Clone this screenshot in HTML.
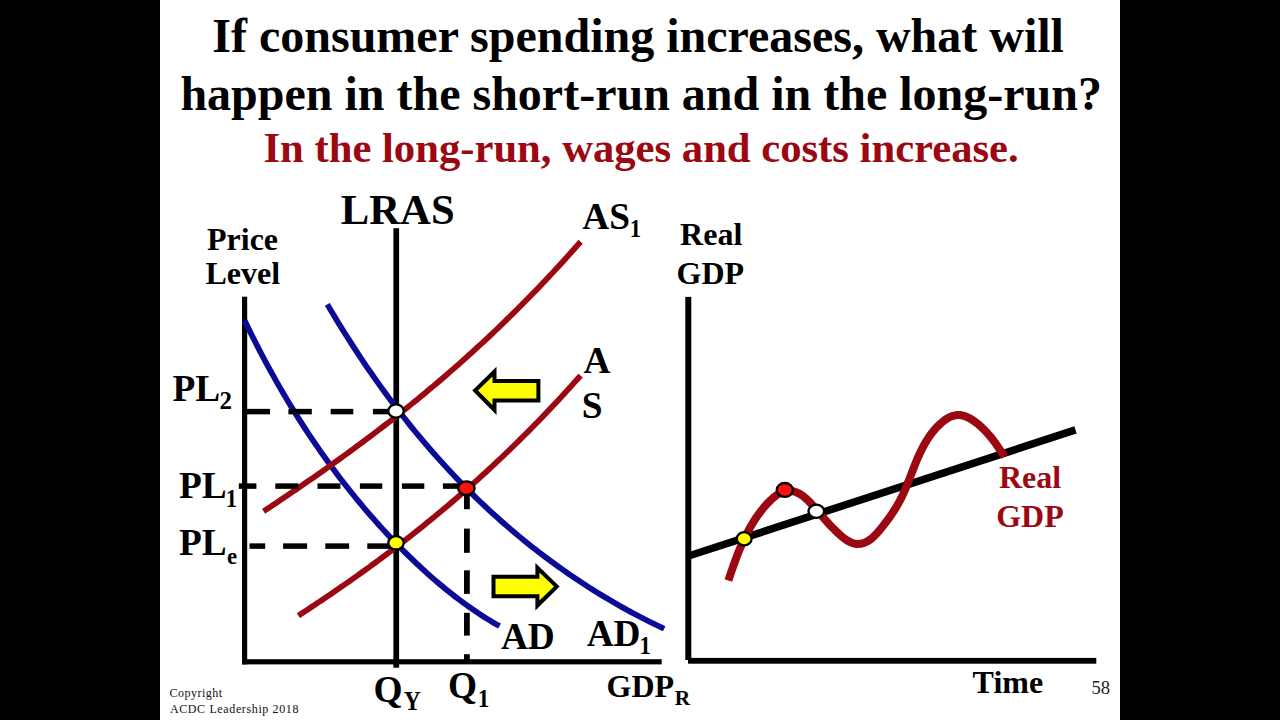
<!DOCTYPE html>
<html><head><meta charset="utf-8"><title>Slide 58</title><style>
html,body{margin:0;padding:0;background:#000;width:1280px;height:720px;overflow:hidden}
svg{display:block}
text{font-family:"Liberation Serif","Times New Roman",serif}
</style></head><body>
<svg width="1280" height="720" viewBox="0 0 1280 720">
<rect x="160.00" y="0.00" width="960.00" height="720.00" fill="#fff"/>
<text x="212.32" y="51.70" font-size="48" font-weight="bold" fill="#000">If consumer spending increases, what will</text>
<text x="180.40" y="109.70" font-size="48" font-weight="bold" fill="#000">happen in the short-run and in the long-run?</text>
<text x="263.51" y="162.10" font-size="42.67" font-weight="bold" fill="#9c0812">In the long-run, wages and costs increase.</text>
<text x="340.86" y="223.80" font-size="42.67" font-weight="bold" fill="#000">LRAS</text>
<text x="207.02" y="249.70" font-size="32" font-weight="bold" fill="#000">Price</text>
<text x="205.42" y="283.50" font-size="32" font-weight="bold" fill="#000">Level</text>
<text x="172.54" y="400.80" font-size="37.33" font-weight="bold" fill="#000">PL</text>
<text x="219.50" y="409.20" font-size="25" font-weight="bold" fill="#000">2</text>
<text x="178.94" y="497.80" font-size="37.33" font-weight="bold" fill="#000">PL</text>
<text x="225.68" y="506.60" font-size="25" font-weight="bold" fill="#000" textLength="11.35" lengthAdjust="spacingAndGlyphs">1</text>
<text x="178.94" y="554.70" font-size="37.33" font-weight="bold" fill="#000">PL</text>
<text x="227.00" y="563.80" font-size="22.8" font-weight="bold" fill="#000">e</text>
<rect x="242.00" y="296.70" width="5.20" height="367.70" fill="#000"/>
<rect x="242.00" y="659.20" width="419.70" height="5.20" fill="#000"/>
<rect x="393.40" y="228.20" width="5.70" height="439.50" fill="#000"/>
<path d="M244.60,320.43 L247.18,325.76 L249.75,331.01 L252.33,336.19 L254.90,341.31 L257.48,346.35 L260.05,351.32 L262.63,356.23 L265.21,361.07 L267.78,365.85 L270.36,370.57 L272.93,375.22 L275.51,379.82 L278.08,384.35 L280.66,388.83 L283.24,393.25 L285.81,397.61 L288.39,401.91 L290.96,406.17 L293.54,410.37 L296.12,414.51 L298.69,418.61 L301.27,422.66 L303.84,426.65 L306.42,430.60 L308.99,434.50 L311.57,438.35 L314.15,442.16 L316.72,445.92 L319.30,449.64 L321.87,453.32 L324.45,456.95 L327.02,460.54 L329.60,464.09 L332.18,467.60 L334.75,471.07 L337.33,474.50 L339.90,477.89 L342.48,481.24 L345.05,484.56 L347.63,487.84 L350.21,491.08 L352.78,494.29 L355.36,497.46 L357.93,500.60 L360.51,503.70 L363.08,506.77 L365.66,509.81 L368.24,512.81 L370.81,515.78 L373.39,518.72 L375.96,521.63 L378.54,524.51 L381.12,527.35 L383.69,530.17 L386.27,532.95 L388.84,535.70 L391.42,538.43 L393.99,541.12 L396.57,543.79 L399.15,546.43 L401.72,549.03 L404.30,551.61 L406.87,554.16 L409.45,556.68 L412.02,559.17 L414.60,561.63 L417.18,564.07 L419.75,566.47 L422.33,568.85 L424.90,571.20 L427.48,573.52 L430.05,575.81 L432.63,578.07 L435.21,580.31 L437.78,582.51 L440.36,584.69 L442.93,586.83 L445.51,588.95 L448.08,591.04 L450.66,593.09 L453.24,595.12 L455.81,597.12 L458.39,599.08 L460.96,601.02 L463.54,602.92 L466.12,604.79 L468.69,606.64 L471.27,608.44 L473.84,610.22 L476.42,611.96 L478.99,613.67 L481.57,615.34 L484.15,616.98 L486.72,618.59 L489.30,620.16 L491.87,621.69 L494.45,623.19 L497.02,624.64 L499.60,626.07" fill="none" stroke="#0b0b98" stroke-width="5.75" stroke-linecap="butt" stroke-linejoin="round"/>
<path d="M327.30,304.35 L330.70,310.12 L334.11,315.80 L337.51,321.42 L340.91,326.96 L344.32,332.43 L347.72,337.83 L351.12,343.16 L354.52,348.41 L357.93,353.60 L361.33,358.73 L364.73,363.78 L368.14,368.77 L371.54,373.70 L374.94,378.56 L378.35,383.36 L381.75,388.10 L385.15,392.77 L388.55,397.39 L391.96,401.94 L395.36,406.44 L398.76,410.88 L402.17,415.26 L405.57,419.58 L408.97,423.85 L412.38,428.07 L415.78,432.23 L419.18,436.34 L422.58,440.39 L425.99,444.39 L429.39,448.35 L432.79,452.25 L436.20,456.10 L439.60,459.90 L443.00,463.66 L446.41,467.37 L449.81,471.03 L453.21,474.64 L456.62,478.21 L460.02,481.74 L463.42,485.22 L466.82,488.65 L470.23,492.05 L473.63,495.40 L477.03,498.71 L480.44,501.97 L483.84,505.20 L487.24,508.39 L490.65,511.53 L494.05,514.64 L497.45,517.71 L500.85,520.74 L504.26,523.73 L507.66,526.69 L511.06,529.61 L514.47,532.49 L517.87,535.34 L521.27,538.15 L524.68,540.92 L528.08,543.67 L531.48,546.38 L534.88,549.05 L538.29,551.69 L541.69,554.30 L545.09,556.88 L548.50,559.42 L551.90,561.93 L555.30,564.41 L558.71,566.86 L562.11,569.28 L565.51,571.67 L568.92,574.03 L572.32,576.36 L575.72,578.66 L579.12,580.93 L582.53,583.17 L585.93,585.38 L589.33,587.56 L592.74,589.72 L596.14,591.85 L599.54,593.94 L602.95,596.02 L606.35,598.06 L609.75,600.08 L613.15,602.07 L616.56,604.03 L619.96,605.96 L623.36,607.87 L626.77,609.76 L630.17,611.61 L633.57,613.44 L636.98,615.24 L640.38,617.02 L643.78,618.77 L647.18,620.50 L650.59,622.20 L653.99,623.87 L657.39,625.52 L660.80,627.14 L664.20,628.73" fill="none" stroke="#0b0b98" stroke-width="5.75" stroke-linecap="butt" stroke-linejoin="round"/>
<path d="M263.60,511.31 L266.80,509.18 L270.00,507.06 L273.21,504.92 L276.41,502.78 L279.61,500.63 L282.81,498.48 L286.01,496.32 L289.22,494.15 L292.42,491.98 L295.62,489.79 L298.82,487.61 L302.02,485.41 L305.23,483.20 L308.43,480.99 L311.63,478.77 L314.83,476.54 L318.03,474.30 L321.24,472.05 L324.44,469.79 L327.64,467.52 L330.84,465.25 L334.04,462.96 L337.25,460.67 L340.45,458.36 L343.65,456.04 L346.85,453.71 L350.05,451.38 L353.26,449.03 L356.46,446.67 L359.66,444.29 L362.86,441.91 L366.06,439.52 L369.27,437.11 L372.47,434.69 L375.67,432.26 L378.87,429.81 L382.07,427.36 L385.28,424.89 L388.48,422.40 L391.68,419.91 L394.88,417.40 L398.08,414.87 L401.29,412.33 L404.49,409.78 L407.69,407.22 L410.89,404.63 L414.09,402.04 L417.30,399.43 L420.50,396.80 L423.70,394.16 L426.90,391.50 L430.11,388.83 L433.31,386.14 L436.51,383.44 L439.71,380.72 L442.91,377.98 L446.12,375.22 L449.32,372.45 L452.52,369.66 L455.72,366.86 L458.92,364.03 L462.13,361.19 L465.33,358.33 L468.53,355.46 L471.73,352.56 L474.93,349.64 L478.14,346.71 L481.34,343.76 L484.54,340.79 L487.74,337.80 L490.94,334.79 L494.15,331.76 L497.35,328.71 L500.55,325.64 L503.75,322.55 L506.95,319.43 L510.16,316.30 L513.36,313.15 L516.56,309.97 L519.76,306.78 L522.96,303.56 L526.17,300.32 L529.37,297.06 L532.57,293.78 L535.77,290.47 L538.97,287.15 L542.18,283.80 L545.38,280.42 L548.58,277.03 L551.78,273.61 L554.98,270.16 L558.19,266.70 L561.39,263.20 L564.59,259.69 L567.79,256.15 L570.99,252.58 L574.20,249.00 L577.40,245.38 L580.60,241.74" fill="none" stroke="#9c0812" stroke-width="5.75" stroke-linecap="butt" stroke-linejoin="round"/>
<path d="M298.40,615.62 L301.25,613.77 L304.10,611.91 L306.95,610.04 L309.80,608.16 L312.65,606.27 L315.50,604.38 L318.35,602.48 L321.20,600.57 L324.05,598.65 L326.91,596.73 L329.76,594.80 L332.61,592.85 L335.46,590.90 L338.31,588.94 L341.16,586.98 L344.01,585.00 L346.86,583.01 L349.71,581.02 L352.56,579.01 L355.41,577.00 L358.26,574.97 L361.11,572.94 L363.96,570.89 L366.81,568.84 L369.66,566.77 L372.51,564.70 L375.36,562.61 L378.21,560.52 L381.06,558.41 L383.92,556.29 L386.77,554.16 L389.62,552.02 L392.47,549.87 L395.32,547.70 L398.17,545.53 L401.02,543.34 L403.87,541.14 L406.72,538.93 L409.57,536.70 L412.42,534.47 L415.27,532.22 L418.12,529.96 L420.97,527.68 L423.82,525.39 L426.67,523.09 L429.52,520.78 L432.37,518.45 L435.22,516.11 L438.07,513.76 L440.93,511.39 L443.78,509.01 L446.63,506.61 L449.48,504.20 L452.33,501.78 L455.18,499.34 L458.03,496.88 L460.88,494.41 L463.73,491.93 L466.58,489.43 L469.43,486.92 L472.28,484.39 L475.13,481.84 L477.98,479.28 L480.83,476.71 L483.68,474.12 L486.53,471.51 L489.38,468.88 L492.23,466.24 L495.08,463.59 L497.94,460.91 L500.79,458.22 L503.64,455.52 L506.49,452.79 L509.34,450.05 L512.19,447.29 L515.04,444.52 L517.89,441.72 L520.74,438.91 L523.59,436.08 L526.44,433.23 L529.29,430.37 L532.14,427.49 L534.99,424.58 L537.84,421.66 L540.69,418.73 L543.54,415.77 L546.39,412.79 L549.24,409.80 L552.09,406.78 L554.95,403.75 L557.80,400.69 L560.65,397.62 L563.50,394.53 L566.35,391.41 L569.20,388.28 L572.05,385.13 L574.90,381.95 L577.75,378.76 L580.60,375.54" fill="none" stroke="#9c0812" stroke-width="5.75" stroke-linecap="butt" stroke-linejoin="round"/>
<rect x="247.00" y="408.85" width="23.00" height="5.50" fill="#000"/>
<rect x="288.40" y="408.85" width="23.40" height="5.50" fill="#000"/>
<rect x="330.70" y="408.85" width="22.60" height="5.50" fill="#000"/>
<rect x="372.90" y="408.85" width="20.10" height="5.50" fill="#000"/>
<rect x="238.80" y="483.35" width="17.60" height="5.50" fill="#000"/>
<rect x="275.30" y="483.35" width="23.10" height="5.50" fill="#000"/>
<rect x="317.50" y="483.35" width="22.90" height="5.50" fill="#000"/>
<rect x="359.90" y="483.35" width="22.40" height="5.50" fill="#000"/>
<rect x="401.90" y="483.35" width="22.40" height="5.50" fill="#000"/>
<rect x="442.90" y="483.35" width="19.10" height="5.50" fill="#000"/>
<rect x="249.50" y="543.35" width="15.70" height="5.50" fill="#000"/>
<rect x="283.10" y="543.35" width="24.00" height="5.50" fill="#000"/>
<rect x="325.30" y="543.35" width="23.80" height="5.50" fill="#000"/>
<rect x="367.30" y="543.35" width="22.70" height="5.50" fill="#000"/>
<rect x="464.00" y="492.50" width="5.80" height="16.70" fill="#000"/>
<rect x="464.00" y="528.60" width="5.80" height="24.20" fill="#000"/>
<rect x="464.00" y="570.30" width="5.80" height="23.60" fill="#000"/>
<rect x="464.00" y="612.80" width="5.80" height="22.80" fill="#000"/>
<rect x="464.00" y="654.20" width="5.80" height="5.80" fill="#000"/>
<ellipse cx="396" cy="411" rx="7.7" ry="6.7" fill="#fff" stroke="#000" stroke-width="2.3"/>
<ellipse cx="466.4" cy="488.2" rx="8.2" ry="6.8" fill="#ff1010" stroke="#000" stroke-width="2.3"/>
<ellipse cx="396" cy="542.8" rx="7.7" ry="6.7" fill="#ffff00" stroke="#000" stroke-width="2.3"/>
<polygon points="540.40,379.00 496.50,379.00 496.50,366.70 472.30,390.60 496.50,415.00 496.50,402.60 540.40,402.60" fill="#000"/>
<polygon points="536.40,383.00 492.50,383.00 492.50,376.50 478.00,390.60 492.50,405.00 492.50,398.60 536.40,398.60" fill="#ffff00"/>
<polygon points="491.50,574.80 535.40,574.80 535.40,562.90 559.60,586.50 535.40,610.40 535.40,598.30 491.50,598.30" fill="#000"/>
<polygon points="495.50,578.80 539.40,578.80 539.40,572.50 554.00,586.50 539.40,600.50 539.40,594.30 495.50,594.30" fill="#ffff00"/>
<text x="582.23" y="229.00" font-size="37.33" font-weight="bold" fill="#000">AS</text>
<text x="629.78" y="237.40" font-size="25" font-weight="bold" fill="#000" textLength="11.35" lengthAdjust="spacingAndGlyphs">1</text>
<text x="583.38" y="373.10" font-size="37.33" font-weight="bold" fill="#000">A</text>
<text x="581.70" y="418.10" font-size="37.33" font-weight="bold" fill="#000">S</text>
<text x="500.88" y="648.90" font-size="37.33" font-weight="bold" fill="#000">AD</text>
<text x="586.63" y="645.50" font-size="37.33" font-weight="bold" fill="#000">AD</text>
<text x="639.38" y="654.20" font-size="25" font-weight="bold" fill="#000" textLength="11.35" lengthAdjust="spacingAndGlyphs">1</text>
<text x="373.53" y="701.50" font-size="37.33" font-weight="bold" fill="#000">Q</text>
<text x="403.83" y="709.80" font-size="26.5" font-weight="bold" fill="#000" textLength="17.08" lengthAdjust="spacingAndGlyphs">Y</text>
<text x="447.93" y="697.60" font-size="37.33" font-weight="bold" fill="#000">Q</text>
<text x="477.74" y="706.70" font-size="25.5" font-weight="bold" fill="#000" textLength="11.62" lengthAdjust="spacingAndGlyphs">1</text>
<text x="606.60" y="697.40" font-size="32" font-weight="bold" fill="#000">GDP</text>
<text x="674.68" y="704.50" font-size="21.3" font-weight="bold" fill="#000">R</text>
<text x="680.12" y="245.00" font-size="32" font-weight="bold" fill="#000">Real</text>
<text x="676.50" y="283.75" font-size="32" font-weight="bold" fill="#000">GDP</text>
<rect x="685.30" y="296.90" width="6.00" height="363.10" fill="#000"/>
<rect x="688.00" y="657.90" width="408.30" height="5.80" fill="#000"/>
<line x1="688.5" y1="556" x2="1075.5" y2="429.9" stroke="#000" stroke-width="7.6"/>
<path d="M728.35,580.53 L729.52,577.04 L730.71,573.54 L731.90,570.05 L733.12,566.57 L734.36,563.10 L735.62,559.64 L736.92,556.20 L738.25,552.77 L739.63,549.37 L741.05,545.99 L742.52,542.63 L744.05,539.31 L745.63,536.01 L747.28,532.75 L748.99,529.52 L750.78,526.33 L752.65,523.18 L754.59,520.08 L756.62,517.02 L758.74,514.01 L760.96,511.05 L763.28,508.15 L765.71,505.33 L768.27,502.57 L770.95,499.91 L773.76,497.35 L776.71,495.01 L779.78,493.03 L782.98,491.56 L786.29,490.74 L789.69,490.64 L793.11,491.20 L796.48,492.32 L799.73,493.92 L802.80,495.94 L805.72,498.27 L808.49,500.86 L811.14,503.63 L813.69,506.49 L816.16,509.38 L818.58,512.22 L820.96,514.99 L823.32,517.71 L825.70,520.38 L828.10,523.02 L830.56,525.64 L833.09,528.26 L835.72,530.88 L838.47,533.51 L841.34,536.10 L844.32,538.51 L847.41,540.63 L850.61,542.34 L853.90,543.52 L857.28,544.05 L860.72,543.84 L864.13,542.95 L867.40,541.46 L870.46,539.44 L873.30,537.01 L875.98,534.29 L878.53,531.39 L880.98,528.44 L883.36,525.49 L885.67,522.53 L887.90,519.56 L890.06,516.57 L892.14,513.56 L894.13,510.52 L896.05,507.44 L897.88,504.31 L899.62,501.13 L901.28,497.90 L902.86,494.61 L904.36,491.28 L905.82,487.90 L907.22,484.49 L908.59,481.06 L909.94,477.61 L911.28,474.15 L912.62,470.69 L913.97,467.23 L915.35,463.78 L916.76,460.35 L918.22,456.95 L919.73,453.59 L921.32,450.26 L922.98,446.99 L924.74,443.77 L926.61,440.62 L928.59,437.54 L930.70,434.54 L932.95,431.62 L935.34,428.80 L937.90,426.08 L940.64,423.48 L943.54,421.04 L946.58,418.89 L949.74,417.10 L953.00,415.80 L956.34,415.08 L959.72,415.03 L963.14,415.64 L966.54,416.82 L969.89,418.46 L973.16,420.48 L976.31,422.76 L979.31,425.21 L982.13,427.75 L984.79,430.36 L987.31,433.05 L989.70,435.81 L991.98,438.63 L994.18,441.51 L996.30,444.45 L998.38,447.43 L1000.42,450.46 L1002.45,453.53 L1004.48,456.63" fill="none" stroke="#9c0812" stroke-width="8" stroke-linecap="butt" stroke-linejoin="round"/>
<ellipse cx="744.2" cy="538.8" rx="7.4" ry="6.6" fill="#ffff00" stroke="#000" stroke-width="2.3"/>
<ellipse cx="784.8" cy="489.9" rx="8.1" ry="6.9" fill="#ff1010" stroke="#000" stroke-width="2.3"/>
<ellipse cx="816.3" cy="511.3" rx="7.8" ry="6.6" fill="#fff" stroke="#000" stroke-width="2.3"/>
<text x="998.92" y="487.80" font-size="32" font-weight="bold" fill="#9c0812">Real</text>
<text x="996.20" y="526.70" font-size="32" font-weight="bold" fill="#9c0812">GDP</text>
<text x="972.62" y="693.10" font-size="32" font-weight="bold" fill="#000">Time</text>
<text x="1091.38" y="694.40" font-size="18.67" font-weight="normal" fill="#222">58</text>
<text x="169.52" y="696.90" font-size="12" font-weight="normal" fill="#111" textLength="52.5" lengthAdjust="spacing">Copyright</text>
<text x="169.88" y="713.10" font-size="12" font-weight="normal" fill="#111" textLength="128.6" lengthAdjust="spacing">ACDC Leadership 2018</text>
</svg></body></html>
